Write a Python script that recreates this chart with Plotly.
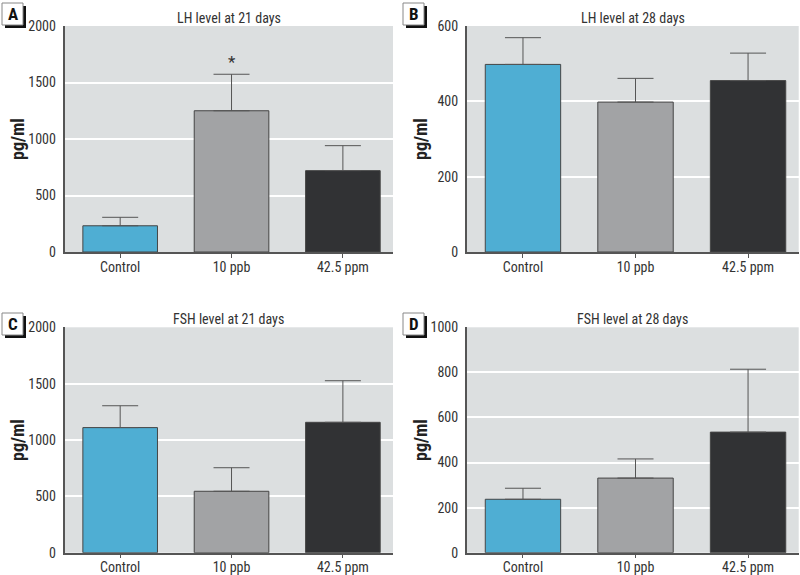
import plotly.graph_objects as go

categories = ["Control", "10 ppb", "42.5 ppm"]
bar_colors = ["#4faed3", "#a2a3a5", "#313234"]

lh21_mean = [232, 1250, 720]
lh21_top = [307, 1573, 941]
lh28_mean = [498, 398, 455]
lh28_top = [569, 461, 528]
fsh21_mean = [1110, 545, 1157]
fsh21_top = [1304, 754, 1526]
fsh28_mean = [237, 331, 535]
fsh28_top = [286, 416, 814]

panels = [
    dict(mean=lh21_mean, top=lh21_top, title="LH level at 21 days", letter="A", ymax=2000, dtick=500),
    dict(mean=lh28_mean, top=lh28_top, title="LH level at 28 days", letter="B", ymax=600, dtick=200),
    dict(mean=fsh21_mean, top=fsh21_top, title="FSH level at 21 days", letter="C", ymax=2000, dtick=500),
    dict(mean=fsh28_mean, top=fsh28_top, title="FSH level at 28 days", letter="D", ymax=1000, dtick=200),
]

W, H = 800, 575
xdoms = [[64.5 / W, 393 / W], [466.7 / W, 798.7 / W]]
ydoms = [[(H - 252) / H, (H - 26) / H], [(H - 552.7) / H, (H - 327.3) / H]]
FONT = "Liberation Sans Narrow, Roboto Condensed, Arial Narrow, sans-serif"
AX = "#555555"

fig = go.Figure()
annotations = []
shapes = []
for i, p in enumerate(panels):
    r, c = divmod(i, 2)
    n = "" if i == 0 else str(i + 1)
    xa, ya = "x" + n, "y" + n
    err = [t - m for t, m in zip(p["top"], p["mean"])]
    fig.add_trace(go.Bar(
        x=[0, 1, 2], y=p["mean"], xaxis=xa, yaxis=ya, width=0.67,
        marker=dict(color=bar_colors, line=dict(color="#454545", width=1)),
        error_y=dict(type="data", symmetric=False, array=err, arrayminus=[0, 0, 0],
                     color="#555555", thickness=1, width=18),
        showlegend=False,
    ))
    fig.update_layout(**{
        "xaxis" + n: dict(domain=xdoms[c], range=[-0.5, 2.45], tickmode="array",
                          tickvals=[0, 1, 2], ticktext=categories, showgrid=False,
                          zeroline=False, showline=True, linecolor=AX, linewidth=1.5,
                          ticks="outside", ticklen=4, tickcolor=AX, tickwidth=1,
                          anchor=ya, automargin=False, ticklabelstandoff=-3,
                          tickfont=dict(family=FONT, size=14, color="#333")),
        "yaxis" + n: dict(domain=ydoms[r], range=[0, p["ymax"]], dtick=p["dtick"],
                          showgrid=True, gridcolor="white", gridwidth=1.5,
                          zeroline=False, showline=True, linecolor=AX, linewidth=1.5,
                          ticks="", anchor=xa, ticklabelstandoff=4, automargin=False,
                          tickfont=dict(family=FONT, size=14, color="#333")),
    })
    x0, x1 = xdoms[c]
    y0, y1 = ydoms[r]
    annotations.append(dict(text=p["title"], x=(x0 + x1) / 2, y=y1 + 8 / H, xref="paper", yref="paper",
                            xanchor="center", yanchor="middle", showarrow=False,
                            font=dict(family=FONT, size=14, color="#333")))
    lx = 17 / W if c == 0 else 420 / W
    annotations.append(dict(text="<b>pg/ml</b>", x=lx, y=(y0 + y1) / 2, xref="paper", yref="paper",
                            xanchor="center", yanchor="middle", showarrow=False, textangle=-90,
                            font=dict(family=FONT, size=18, color="#222")))
    bx0 = 2 if c == 0 else 403
    by0 = 3 if r == 0 else 313
    bw, bh = 21, 22
    shapes.append(dict(type="rect", xref="paper", yref="paper",
                       x0=(bx0 + 3) / W, x1=(bx0 + bw + 3) / W,
                       y0=(H - (by0 + bh + 3)) / H, y1=(H - (by0 + 3)) / H,
                       fillcolor="#111", line=dict(width=0), layer="above"))
    shapes.append(dict(type="rect", xref="paper", yref="paper",
                       x0=bx0 / W, x1=(bx0 + bw) / W,
                       y0=(H - (by0 + bh)) / H, y1=(H - by0) / H,
                       fillcolor="white", line=dict(color="#888", width=1), layer="above"))
    annotations.append(dict(text="<b>%s</b>" % p["letter"], x=(bx0 + bw / 2) / W,
                            y=(H - (by0 + bh / 2)) / H, xref="paper", yref="paper",
                            xanchor="center", yanchor="middle", showarrow=False,
                            font=dict(family=FONT, size=17, color="#111")))

annotations.append(dict(text="*", x=1, y=1680, xref="x", yref="y", showarrow=False,
                        xanchor="center", yanchor="middle",
                        font=dict(family=FONT, size=17, color="#333")))

fig.update_layout(
    width=W, height=H, autosize=False,
    margin=dict(l=0, r=0, t=0, b=0, pad=0, autoexpand=False),
    paper_bgcolor="white", plot_bgcolor="#dcdfe0",
    annotations=annotations, shapes=shapes, bargap=0.33,
)
js = (
    "var s=document.createElement('style');"
    "s.textContent='html,body{margin:0;padding:0;width:800px;height:575px;overflow:hidden;}"
    ".plotly-graph-div{position:absolute;left:0;top:0;}';"
    "document.head.appendChild(s);"
)
fig.write_html("out.html", config={"responsive": False, "displayModeBar": False}, post_script=js)
